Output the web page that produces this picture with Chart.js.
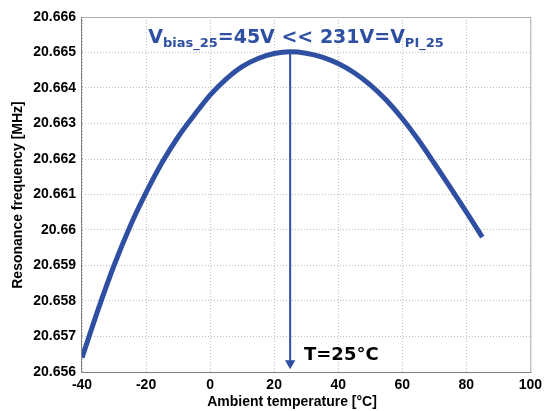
<!DOCTYPE html>
<html>
<head>
<meta charset="utf-8">
<script src="https://cdn.jsdelivr.net/npm/chart.js@4.4.0/dist/chart.umd.min.js"></script>
<style>
  html, body { margin: 0; padding: 0; background: #ffffff; }
  #wrap { width: 547px; height: 411px; position: relative; }
</style>
</head>
<body>
<div id="wrap"><canvas id="resChart"></canvas></div>
<script>
// Resonance frequency vs ambient temperature
const temps = [-40, -35, -30, -25, -20, -15, -10, -5, 0, 5, 10, 15, 20, 25, 30, 35, 40, 45, 50, 55, 60, 65, 70, 75, 80, 85];
const freqs = [20.65640, 20.65775, 20.65900, 20.66010, 20.66105, 20.66190, 20.66262, 20.66323, 20.66380, 20.66425,
               20.66460, 20.66483, 20.66497, 20.66502, 20.66498, 20.66487, 20.66469, 20.66443, 20.66409, 20.66366,
               20.66314, 20.66254, 20.66188, 20.66120, 20.66051, 20.65980];
const xTicks = [-40, -20, 0, 20, 40, 60, 80, 100];
const yTicks = [20.656, 20.657, 20.658, 20.659, 20.66, 20.661, 20.662, 20.663, 20.664, 20.665, 20.666];
// arrow from the peak down to the axis at T = 25 C
const arrowX = [25, 25];
const arrowY = [20.665, 20.65625];

const blue = '#2f4fa2';

const textPlugin = {
    id: 'textPlugin',
    afterDraw(chart) {
        const ctx = chart.ctx;
        const a = chart.chartArea;
        ctx.save();
        ctx.setLineDash([]);
        // box round the axes
        ctx.strokeStyle = '#b0b0b0';
        ctx.lineWidth = 1;
        ctx.beginPath();
        ctx.moveTo(a.left, a.top + 0.5);
        ctx.lineTo(a.right + 0.5, a.top + 0.5);
        ctx.lineTo(a.right + 0.5, a.bottom);
        ctx.stroke();
        ctx.strokeStyle = '#808080';
        ctx.beginPath();
        ctx.moveTo(a.left - 0.5, a.top);
        ctx.lineTo(a.left - 0.5, a.bottom + 0.5);
        ctx.lineTo(a.right + 1, a.bottom + 0.5);
        ctx.stroke();

        // title with subscripts
        const parts = [
            ['V', false], ['bias_25', true], ['=45V << 231V=V', false], ['PI_25', true]
        ];
        const big = 'bold 19px "DejaVu Sans"';
        const small = 'bold 13px "DejaVu Sans"';
        let total = 0;
        parts.forEach(p => { ctx.font = p[1] ? small : big; total += ctx.measureText(p[0]).width; });
        let x = 296 - total / 2;
        ctx.fillStyle = blue;
        ctx.textBaseline = 'alphabetic';
        ctx.textAlign = 'left';
        parts.forEach(p => {
            ctx.font = p[1] ? small : big;
            ctx.fillText(p[0], x, p[1] ? 47 : 43);
            x += ctx.measureText(p[0]).width;
        });

        // T=25°C label
        ctx.fillStyle = '#000000';
        ctx.font = 'bold 18px "DejaVu Sans"';
        ctx.fillText('T=25°C', 304, 360);

        // axis titles
        ctx.font = 'bold 14px "Liberation Sans"';
        ctx.textAlign = 'center';
        ctx.textBaseline = 'middle';
        ctx.fillText('Ambient temperature [°C]', 292, 402);
        ctx.translate(18, 195);
        ctx.rotate(-Math.PI / 2);
        ctx.fillText('Resonance frequency [MHz]', 0, 0);
        ctx.restore();
    }
};

const ctx = document.getElementById('resChart').getContext('2d');
const resChart = new Chart(ctx, {
    type: 'line',
    data: {
        datasets: [{
            label: 'Resonance frequency',
            data: temps.map((t, i) => ({ x: t, y: freqs[i] })),
            borderColor: blue,
            borderWidth: 5,
            pointRadius: 0,
            cubicInterpolationMode: 'monotone',
            fill: false
        }, {
            label: 'T=25',
            data: arrowX.map((t, i) => ({ x: t, y: arrowY[i] })),
            borderColor: blue,
            backgroundColor: blue,
            borderWidth: 2,
            pointStyle: 'triangle',
            pointRadius: [0, 6],
            pointRotation: [0, 180],
            pointBorderWidth: 0,
            tension: 0
        }]
    },
    options: {
        responsive: true,
        maintainAspectRatio: false,
        animation: false,
        layout: {
            padding: { left: 0, right: 15, top: 17, bottom: 0 }
        },
        plugins: {
            legend: { display: false },
            tooltip: { enabled: false }
        },
        scales: {
            x: {
                type: 'linear',
                min: -40,
                max: 100,
                afterBuildTicks: scale => { scale.ticks = xTicks.map(v => ({ value: v })); },
                afterFit: scale => { scale.height = 39; },
                grid: {
                    color: '#bdbdbd',
                    drawTicks: false
                },
                // in v4 border.dash sets the grid line dash
                border: { display: false, dash: [1, 2] },
                ticks: {
                    color: '#000000',
                    padding: 5,
                    maxRotation: 0,
                    font: { family: 'Liberation Sans', size: 14, weight: 'bold' }
                }
            },
            y: {
                min: 20.656,
                max: 20.666,
                afterBuildTicks: scale => { scale.ticks = yTicks.map(v => ({ value: v })); },
                afterFit: scale => { scale.width = 82; },
                grid: {
                    color: '#bdbdbd',
                    drawTicks: false
                },
                border: { display: false, dash: [1, 2] },
                ticks: {
                    color: '#000000',
                    padding: 6,
                    font: { family: 'Liberation Sans', size: 14, weight: 'bold' },
                    callback: value => String(parseFloat(value.toFixed(3)))
                }
            }
        }
    },
    plugins: [textPlugin]
});
</script>
</body>
</html>
